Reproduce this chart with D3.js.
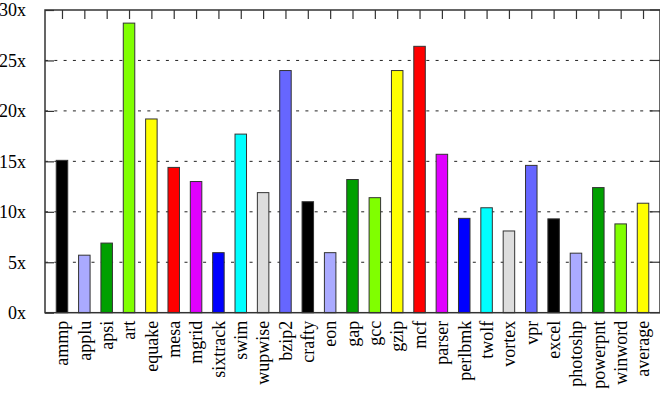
<!DOCTYPE html>
<html><head><meta charset="utf-8">
<script src="https://cdn.jsdelivr.net/npm/d3@7/dist/d3.min.js"></script>
<style>html,body{margin:0;padding:0;background:#fff;}svg{display:block;}svg text{font-family:"Liberation Serif","Times New Roman",serif;}</style>
</head><body>
<svg id="chart" width="660" height="398"></svg>
<script>
const categories = ["ammp","applu","apsi","art","equake","mesa","mgrid","sixtrack","swim","wupwise","bzip2","crafty","eon","gap","gcc","gzip","mcf","parser","perlbmk","twolf","vortex","vpr","excel","photoshp","powerpnt","winword","average"];
const values = [15.1,5.7,6.9,28.7,19.2,14.4,13.0,5.95,17.7,11.9,24.0,11.0,5.95,13.2,11.4,24.0,26.4,15.7,9.35,10.4,8.1,14.6,9.3,5.9,12.4,8.8,10.85];
const palette = ["#000000","#aaaaff","#00a000","#80ff00","#ffff00","#ff0000","#e000ff","#0000ff","#00ffff","#dddddd","#6666ff"];
const yTicks = [0,5,10,15,20,25,30];

const svg = d3.select("#chart");
const L = 45, R = 660, T = 10, B = 312.7;
const x = d3.scalePoint().domain(categories).range([L, R]).padding(0.76);
const y = d3.scaleLinear().domain([0, 30]).range([B, T]);

// gridlines
svg.append("g").selectAll("line").data(yTicks.filter(d => d > 0 && d < 30)).join("line")
  .attr("x1", L).attr("x2", R).attr("y1", d => y(d)).attr("y2", d => y(d))
  .attr("stroke", "#222").attr("stroke-width", 1).attr("stroke-dasharray", "3,6.3");

// bars
const bw = 11.5;
svg.append("g").selectAll("rect").data(values).join("rect")
  .attr("x", (d, i) => x(categories[i]) - bw / 2)
  .attr("width", bw)
  .attr("y", d => y(d))
  .attr("height", d => B - y(d))
  .attr("fill", (d, i) => palette[i % palette.length])
  .attr("stroke", "#333").attr("stroke-width", 1);

// left axis
const yAxis = d3.axisLeft(y).tickValues(yTicks).tickFormat(d => d + "x").tickSize(-9).tickPadding(19);
const gy = svg.append("g").attr("transform", `translate(${L},0)`).call(yAxis);
gy.attr("font-family", null);
gy.select(".domain").remove();
gy.selectAll(".tick line").attr("stroke", "#333").attr("stroke-width", 1.2);
gy.selectAll(".tick text").style("font-size", "18px").attr("fill", "#000");

// right ticks
svg.append("g").selectAll("line").data(yTicks).join("line")
  .attr("x1", R - 10).attr("x2", R).attr("y1", d => y(d)).attr("y2", d => y(d))
  .attr("stroke", "#333").attr("stroke-width", 1.2);

// top ticks
const xTop = d3.axisTop(x).tickSize(-9).tickFormat("");
const gt = svg.append("g").attr("transform", `translate(0,${T})`).call(xTop);
gt.select(".domain").remove();
gt.selectAll(".tick line").attr("stroke", "#333").attr("stroke-width", 1.2);

// border
svg.append("rect").attr("x", L).attr("y", T).attr("width", R - L).attr("height", B - T)
  .attr("fill", "none").attr("stroke", "#333").attr("stroke-width", 1.5);

// category labels
const xAxis = d3.axisBottom(x).tickSize(0).tickPadding(0);
const gx = svg.append("g").attr("transform", `translate(0,${B})`).call(xAxis);
gx.attr("font-family", null);
gx.select(".domain").remove();
gx.selectAll(".tick text")
  .style("font-size", "18px").attr("fill", "#000")
  .attr("text-anchor", "end")
  .attr("transform", "rotate(-90)")
  .attr("x", -8).attr("y", 0).attr("dy", "0.32em");
</script>
</body></html>
